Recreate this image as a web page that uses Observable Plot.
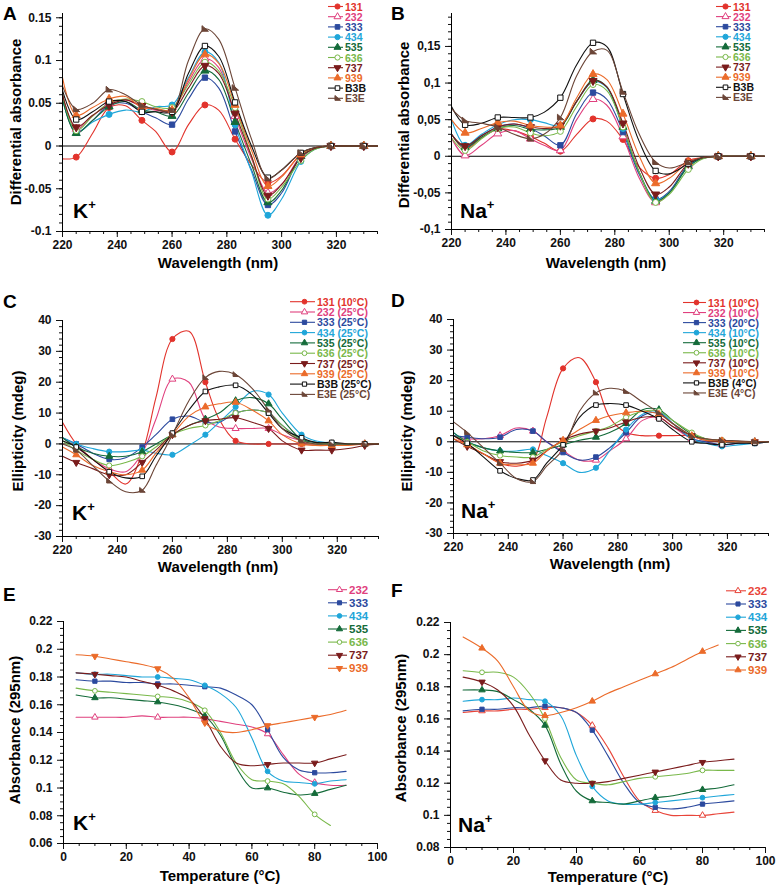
<!DOCTYPE html>
<html><head><meta charset="utf-8">
<script src="https://cdn.jsdelivr.net/npm/d3@7"></script>
<script src="https://cdn.jsdelivr.net/npm/@observablehq/plot@0.6"></script>
<style>
body{margin:0;background:#fff;}
#fig{position:relative;width:777px;height:888px;overflow:hidden;background:#fff;}
#fig svg{position:absolute;left:0;top:0;}
</style></head><body><div id="fig"></div>
<script>
// ---------- DATA ----------
const wavelength = [220, 225, 231, 237, 243, 249, 254, 260, 266, 272, 277, 283, 289, 295, 300, 307, 312, 318, 324, 330, 335];
const markerWavelengths = [225, 237, 249, 260, 272, 283, 295, 307, 318, 330];
const oligos = ["131", "232", "333", "434", "535", "636", "737", "939", "B3B", "E3E"];
const cdTempsK = ["10°C", "25°C", "25°C", "25°C", "25°C", "25°C", "25°C", "25°C", "25°C", "25°C"];
const cdTempsNa = ["10°C", "10°C", "20°C", "10°C", "10°C", "10°C", "10°C", "10°C", "4°C", "4°C"];

// Panel A: differential absorbance, K+
const diffAbsK = [
  [-0.015, -0.013, 0.015, 0.045, 0.047, 0.030, 0.017, -0.007, 0.025, 0.048, 0.042, 0.008, -0.022, -0.043, -0.035, -0.010, -0.003, 0, 0, 0, 0],
  [0.060, 0.020, 0.035, 0.050, 0.054, 0.046, 0.042, 0.042, 0.075, 0.102, 0.092, 0.035, -0.015, -0.055, -0.045, -0.012, -0.003, 0, 0, 0, 0],
  [0.055, 0.016, 0.030, 0.048, 0.050, 0.040, 0.033, 0.025, 0.055, 0.080, 0.068, 0.017, -0.028, -0.069, -0.055, -0.012, -0.003, 0, 0, 0, 0],
  [0.055, 0.016, 0.028, 0.037, 0.042, 0.040, 0.046, 0.048, 0.080, 0.110, 0.098, 0.025, -0.030, -0.081, -0.062, -0.018, -0.004, 0, 0, 0, 0],
  [0.055, 0.015, 0.030, 0.046, 0.052, 0.042, 0.040, 0.035, 0.062, 0.088, 0.078, 0.028, -0.022, -0.066, -0.052, -0.012, -0.003, 0, 0, 0, 0],
  [0.060, 0.018, 0.035, 0.050, 0.055, 0.052, 0.046, 0.045, 0.072, 0.098, 0.088, 0.045, -0.012, -0.062, -0.048, -0.017, -0.004, 0, 0, 0, 0],
  [0.060, 0.022, 0.036, 0.048, 0.054, 0.047, 0.043, 0.040, 0.068, 0.094, 0.085, 0.038, -0.012, -0.058, -0.045, -0.014, -0.003, 0, 0, 0, 0],
  [0.080, 0.036, 0.045, 0.055, 0.058, 0.045, 0.044, 0.042, 0.078, 0.107, 0.097, 0.048, -0.005, -0.047, -0.036, -0.010, -0.002, 0, 0, 0, 0],
  [0.065, 0.031, 0.040, 0.052, 0.052, 0.040, 0.040, 0.040, 0.085, 0.117, 0.105, 0.051, 0.000, -0.037, -0.028, -0.008, -0.002, 0, 0, 0, 0],
  [0.070, 0.043, 0.050, 0.066, 0.060, 0.048, 0.043, 0.042, 0.100, 0.137, 0.125, 0.068, 0.008, -0.038, -0.028, -0.008, -0.002, 0, 0, 0, 0]
];
// Panel B: differential absorbance, Na+
const diffAbsNa = [
  [0.030, 0.010, 0.025, 0.037, 0.035, 0.027, 0.018, 0.007, 0.030, 0.051, 0.048, 0.023, -0.015, -0.030, -0.025, -0.006, -0.002, 0, 0, 0, 0],
  [0.025, 0.001, 0.015, 0.031, 0.035, 0.024, 0.015, 0.008, 0.050, 0.078, 0.070, 0.027, -0.030, -0.063, -0.050, -0.012, -0.003, 0, 0, 0, 0],
  [0.030, 0.012, 0.028, 0.040, 0.044, 0.038, 0.028, 0.015, 0.058, 0.087, 0.078, 0.033, -0.025, -0.059, -0.048, -0.012, -0.003, 0, 0, 0, 0],
  [0.050, 0.015, 0.030, 0.043, 0.050, 0.050, 0.046, 0.042, 0.075, 0.102, 0.094, 0.038, -0.022, -0.060, -0.050, -0.014, -0.003, 0, 0, 0, 0],
  [0.030, 0.012, 0.026, 0.038, 0.042, 0.037, 0.036, 0.040, 0.075, 0.104, 0.095, 0.040, -0.022, -0.061, -0.050, -0.014, -0.003, 0, 0, 0, 0],
  [0.025, 0.008, 0.024, 0.038, 0.040, 0.032, 0.028, 0.034, 0.068, 0.098, 0.090, 0.040, -0.022, -0.063, -0.052, -0.018, -0.004, 0, 0, 0, 0],
  [0.030, 0.014, 0.028, 0.040, 0.044, 0.040, 0.038, 0.042, 0.075, 0.103, 0.095, 0.045, -0.015, -0.052, -0.042, -0.010, -0.002, 0, 0, 0, 0],
  [0.050, 0.032, 0.038, 0.046, 0.048, 0.042, 0.040, 0.042, 0.080, 0.112, 0.105, 0.058, 0.000, -0.037, -0.030, -0.008, -0.002, 0, 0, 0, 0],
  [0.068, 0.043, 0.045, 0.053, 0.053, 0.053, 0.060, 0.080, 0.125, 0.155, 0.150, 0.085, 0.020, -0.020, -0.024, -0.010, -0.002, 0, 0, 0, 0],
  [0.065, 0.049, 0.045, 0.040, 0.030, 0.024, 0.030, 0.053, 0.110, 0.143, 0.145, 0.088, 0.030, -0.008, -0.016, -0.008, -0.002, 0, 0, 0, 0]
];
// Panel C: CD ellipticity (mdeg), K+
const cdK = [
  [7, 0, -5, -9, -13, -3, 15, 34, 36.5, 20, 8, 1, 0, 0, 0, 0, 0, 0, 0, 0, 0],
  [2, -1, -5, -8, -9, -3, 8, 21, 20, 8, 5.5, 5, 5, 5, 3, 1, 0, 0, 0, 0, 0],
  [2, 0, -3, -5, -4.5, -1, 3, 8, 9, 7, 7, 10, 11, 10, 6, 1.5, 0.5, 0, 0, 0, 0],
  [2, 0, -1.5, -2.5, -2.5, -2, -3, -3.5, -0.5, 3, 7, 12, 17, 16, 10, 3, 1, 0.3, 0, 0, 0],
  [2, -1, -3, -4, -4, -2.5, 0, 3, 6, 8, 10, 14, 15, 13, 8, 1.5, 0.5, 0, 0, 0, 0],
  [1, -2, -5, -7, -6, -4, -1, 3, 5, 6, 7.5, 10, 11, 10, 6, 1, 0, 0, 0, 0, 0],
  [-4, -6, -8, -10, -10, -6, -2, 3, 6, 7.5, 8, 8.5, 7, 5, 1, -2, -2, -2, -1.5, -0.5, 0],
  [-1, -3.5, -7, -9, -10, -8.5, -3, 3, 9, 12, 13, 13.5, 11, 7.5, 3, 0, -0.5, -0.5, -0.5, 0, 0],
  [1, -1, -5, -9, -11, -10.5, -4, 3.5, 11, 17, 18.5, 19, 16, 10, 5, 2, 0.5, 0.5, 0, 0, 0],
  [0, -2, -7, -12, -15.5, -15, -7, 3, 14, 21.5, 23.5, 22.5, 18, 11, 5, 1, 0, 0, 0, 0, 0]
];
// Panel D: CD ellipticity (mdeg), Na+
const cdNa = [
  [2, -1, -4, -7, -8, -6, 8, 24, 27.5, 19.5, 8, 3, 2, 2, 2, 2, 1, 0.5, 0, 0, 0],
  [2, 1, 1, 2, 4.5, 3.5, 0, -3, -6, -6, -3, 1, 7, 8, 5, 1, 0, -1, -0.5, 0, 0],
  [2, 1.5, 1, 1.5, 4, 3.5, 0, -3.5, -6, -5, -2, 3, 8.5, 9.5, 6, 1, 0, -1, -0.5, -0.5, 0],
  [3, 0, -2, -3, -3, -2.5, -4.5, -7, -10, -8.5, -3, 4, 9, 10, 6, 1, -0.5, -1.5, -1, -0.5, 0],
  [3, 0, -2, -3, -3.5, -3.5, -2.5, -1, 0.5, 1.5, 3, 6, 10.5, 10.5, 7, 2.5, 1, 0, 0, 0, 0],
  [2, 0, -3, -4.5, -5, -5, -2.5, 0, 2, 3.5, 5, 8, 10, 10, 7, 3, 1, 0.5, 0, 0, 0],
  [1, -1.5, -4, -6.5, -7, -6, -3, 0.5, 2.5, 3.5, 4.5, 6.5, 8, 8, 5, 2, 0.5, 0, 0, 0, 0],
  [1, -1, -4, -7, -7.5, -7, -3, 0.5, 4, 7, 8.5, 9.5, 10, 9, 6, 2, 0.5, 0.3, 0, 0, 0],
  [2, -0.5, -5, -9.5, -12, -12.5, -7, -1, 8, 12, 12.5, 12, 10, 7.5, 4, 0, -0.5, -1, -0.5, -0.5, 0],
  [6.5, 3, -2, -7, -12, -13, -8, -2.5, 10, 16, 17.5, 16.5, 13, 9.5, 6, 2, 1, 0.5, 0.3, 0, 0]
];

// Panels E/F: melting curves, absorbance at 295 nm
const temperature = [4, 10, 15, 20, 25, 30, 35, 40, 45, 50, 55, 60, 65, 70, 75, 80, 85, 90];
const markerTemps = [10, 30, 45, 65, 80];
const meltOligos = ["232", "333", "434", "535", "636", "737", "939"];
const meltK = [
  [0.151, 0.151, 0.151, 0.151, 0.152, 0.151, 0.151, 0.151, 0.150, 0.148, 0.146, 0.144, 0.139, 0.124, 0.110, 0.104, 0.102, 0.102],
  [0.178, 0.177, 0.177, 0.176, 0.176, 0.175, 0.175, 0.174, 0.173, 0.172, 0.167, 0.160, 0.142, 0.122, 0.113, 0.111, 0.111, 0.112],
  [0.183, 0.182, 0.182, 0.181, 0.180, 0.180, 0.179, 0.178, 0.174, 0.168, 0.158, 0.136, 0.112, 0.105, 0.104, 0.103, 0.105, 0.106],
  [0.167, 0.165, 0.165, 0.164, 0.163, 0.162, 0.160, 0.157, 0.152, 0.138, 0.115, 0.100, 0.100, 0.097, 0.095, 0.096, 0.099, 0.102],
  [0.172, 0.170, 0.169, 0.168, 0.167, 0.166, 0.165, 0.162, 0.156, 0.140, 0.118, 0.106, 0.105, 0.103, 0.094, 0.081, 0.073, null],
  [0.183, 0.182, 0.181, 0.180, 0.177, 0.174, 0.170, 0.164, 0.150, 0.130, 0.118, 0.116, 0.117, 0.118, 0.118, 0.118, 0.121, 0.124],
  [0.196, 0.195, 0.193, 0.191, 0.189, 0.186, 0.179, 0.165, 0.147, 0.141, 0.140, 0.142, 0.145, 0.147, 0.149, 0.151, 0.153, 0.156]
];
const meltNa = [
  [0.164, 0.165, 0.165, 0.166, 0.166, 0.167, 0.167, 0.164, 0.156, 0.142, 0.124, 0.109, 0.103, 0.100, 0.100, 0.100, 0.101, 0.102],
  [0.165, 0.166, 0.166, 0.167, 0.167, 0.168, 0.167, 0.164, 0.153, 0.137, 0.120, 0.108, 0.105, 0.104, 0.105, 0.107, 0.108, 0.109],
  [0.171, 0.172, 0.172, 0.173, 0.172, 0.171, 0.162, 0.137, 0.118, 0.109, 0.107, 0.107, 0.108, 0.109, 0.110, 0.111, 0.112, 0.113],
  [0.178, 0.178, 0.177, 0.172, 0.166, 0.156, 0.132, 0.115, 0.109, 0.108, 0.107, 0.109, 0.111, 0.112, 0.114, 0.116, 0.117, 0.119],
  [0.190, 0.189, 0.189, 0.186, 0.176, 0.160, 0.136, 0.122, 0.120, 0.119, 0.121, 0.123, 0.124, 0.125, 0.126, 0.128, 0.128, 0.128],
  [0.186, 0.183, 0.178, 0.168, 0.150, 0.134, 0.122, 0.120, 0.120, 0.121, 0.123, 0.125, 0.127, 0.129, 0.131, 0.133, 0.134, 0.135],
  [0.211, 0.204, 0.196, 0.180, 0.165, 0.162, 0.164, 0.167, 0.171, 0.176, 0.180, 0.184, 0.188, 0.192, 0.197, 0.202, 0.206, null]
];

// Tick values
const wlTicks = [220, 240, 260, 280, 300, 320];
const tempTicks = [0, 20, 40, 60, 80, 100];
const diffTicks = [-0.1, -0.05, 0, 0.05, 0.1, 0.15];
const cdTicks = [-30, -20, -10, 0, 10, 20, 30, 40];
const meltTicksK = [0.06, 0.08, 0.1, 0.12, 0.14, 0.16, 0.18, 0.2, 0.22];
const meltTicksNa = [0.08, 0.1, 0.12, 0.14, 0.16, 0.18, 0.2, 0.22];

// ---------- STYLE ----------
const FONT = '"Liberation Sans", Arial, Helvetica, sans-serif';
const triangleDown = {draw(ctx, size) {
  const y = Math.sqrt(size / (3 * Math.sqrt(3))), s3 = Math.sqrt(3);
  ctx.moveTo(0, 2 * y); ctx.lineTo(-s3 * y, -y); ctx.lineTo(s3 * y, -y); ctx.closePath();
}};
const wedge = {draw(ctx, size) {
  const s = Math.sqrt(size) * 0.55;
  ctx.moveTo(-s, -s * 1.1); ctx.lineTo(-s, s * 0.8); ctx.lineTo(s * 1.2, s * 0.8); ctx.closePath();
}};
const colorOf = {"131": "#e2332c", "232": "#e0407e", "333": "#2c4a9e", "434": "#1fa6d9", "535": "#146b3a",
  "636": "#79b84a", "737": "#7a1c1c", "939": "#eb6b2a", "B3B": "#111111", "E3E": "#6b4537"};
const symbolOf = {"131": d3.symbolCircle, "232": d3.symbolTriangle, "333": d3.symbolSquare, "434": d3.symbolCircle,
  "535": d3.symbolTriangle, "636": d3.symbolCircle, "737": triangleDown, "939": d3.symbolTriangle,
  "B3B": d3.symbolSquare, "E3E": wedge};
const filledOf = {"131": true, "232": false, "333": true, "434": true, "535": true, "636": false,
  "737": true, "939": true, "B3B": false, "E3E": true};

const fig = document.getElementById("fig");

function rowsOf(xs, vals) { return xs.map((x, i) => ({x, y: vals[i]})).filter(d => d.y != null); }

function panel(cfg) {
  const marks = [];
  if (cfg.zero) marks.push(Plot.ruleY([0], {stroke: "#000", strokeWidth: 1}));
  cfg.values.forEach((vals, i) => {
    const name = cfg.names[i];
    marks.push(Plot.line(rowsOf(cfg.xs, vals), {x: "x", y: "y", stroke: cfg.colors[i] || colorOf[name],
      strokeWidth: 1.1, curve: "catmull-rom"}));
  });
  cfg.values.forEach((vals, i) => {
    const name = cfg.names[i];
    const c = cfg.colors[i] || colorOf[name];
    const sym = (cfg.symbols && cfg.symbols[i]) || symbolOf[name];
    marks.push(Plot.dot(rowsOf(cfg.xs, vals).filter(d => cfg.markXs.includes(d.x)),
      {x: "x", y: "y", symbol: sym, r: cfg.r, fill: filledOf[name] ? c : "white", stroke: c, strokeWidth: 1}));
  });
  marks.push(
    Plot.axisX({ticks: cfg.xMinor, tickSize: 3, tickFormat: () => "", label: null}),
    Plot.axisY({ticks: cfg.yMinor, tickSize: 3, tickFormat: () => "", label: null}),
    Plot.axisX({ticks: cfg.xTicks, tickSize: 6, tickPadding: 3, tickFormat: d => String(d), label: null,
      fontSize: 12, fontWeight: "bold"}),
    Plot.axisY({ticks: cfg.yTicks, tickSize: 6, tickPadding: 5, tickFormat: cfg.yFormat, label: null,
      fontSize: 12, fontWeight: "bold"}),
    Plot.ruleX([cfg.xDomain[0]], {stroke: "#000"}),
    Plot.ruleY([cfg.yDomain[0]], {stroke: "#000"})
  );
  const svg = Plot.plot({
    width: 777, height: 888,
    marginLeft: cfg.frame[0], marginRight: 777 - cfg.frame[1],
    marginTop: cfg.frame[2], marginBottom: 888 - cfg.frame[3],
    x: {domain: cfg.xDomain}, y: {domain: cfg.yDomain},
    style: {background: "transparent", fontFamily: FONT, fontSize: "12px", fontWeight: "bold", color: "#111", overflow: "visible"},
    marks
  });
  fig.appendChild(svg);
}

const fmtDot = d => String(+d.toFixed(3));
const fmtComma = d => String(+d.toFixed(3)).replace(".", ",");
const spectraColors = oligos.map(o => colorOf[o]);

panel({frame: [62, 377, 13, 231], xDomain: [220, 335], yDomain: [-0.1, 0.155], xs: wavelength, markXs: markerWavelengths,
  values: diffAbsK, names: oligos, colors: spectraColors, r: 3, zero: true,
  xTicks: wlTicks, xMinor: d3.range(220, 336, 5), yTicks: diffTicks, yMinor: d3.range(-10, 16, 1).map(v => v / 100), yFormat: fmtDot});
panel({frame: [451, 764, 13, 229], xDomain: [220, 335], yDomain: [-0.1, 0.195], xs: wavelength, markXs: markerWavelengths,
  values: diffAbsNa, names: oligos, colors: spectraColors, r: 3, zero: true,
  xTicks: wlTicks, xMinor: d3.range(220, 336, 5), yTicks: diffTicks, yMinor: d3.range(-10, 20, 1).map(v => v / 100), yFormat: fmtComma});
panel({frame: [62, 378, 320, 536], xDomain: [220, 335], yDomain: [-30, 40], xs: wavelength, markXs: markerWavelengths,
  values: cdK, names: oligos, colors: spectraColors, r: 2.6, zero: true,
  xTicks: wlTicks, xMinor: d3.range(220, 336, 5), yTicks: cdTicks, yMinor: d3.range(-30, 41, 2), yFormat: d => String(d)});
panel({frame: [453, 768, 319, 533], xDomain: [220, 335], yDomain: [-30, 40], xs: wavelength, markXs: markerWavelengths,
  values: cdNa, names: oligos, colors: spectraColors, r: 2.6, zero: true,
  xTicks: wlTicks, xMinor: d3.range(220, 336, 5), yTicks: cdTicks, yMinor: d3.range(-30, 41, 2), yFormat: d => String(d)});
const meltColorsK = meltOligos.map(o => colorOf[o]);
const meltColorsNa = meltOligos.map(o => o === "232" ? "#e8453a" : colorOf[o]);
const meltSymK = meltOligos.map(o => o === "939" ? triangleDown : symbolOf[o]);
const meltSymNa = meltOligos.map(o => symbolOf[o]);
panel({frame: [63, 377, 621, 843], xDomain: [0, 100], yDomain: [0.06, 0.22], xs: temperature, markXs: markerTemps,
  values: meltK, names: meltOligos, colors: meltColorsK, symbols: meltSymK, r: 2.4, zero: false,
  xTicks: tempTicks, xMinor: d3.range(0, 101, 5), yTicks: meltTicksK, yMinor: d3.range(60, 221, 5).map(v => v / 1000), yFormat: fmtDot});
panel({frame: [450, 765, 622, 847], xDomain: [0, 100], yDomain: [0.08, 0.22], xs: temperature, markXs: markerTemps,
  values: meltNa, names: meltOligos, colors: meltColorsNa, symbols: meltSymNa, r: 2.4, zero: false,
  xTicks: tempTicks, xMinor: d3.range(0, 101, 5), yTicks: meltTicksNa, yMinor: d3.range(80, 221, 5).map(v => v / 1000), yFormat: fmtDot});

// ---------- TEXT OVERLAY (titles, panel letters, legends) ----------
const ov = d3.select(fig).append("svg").attr("width", 777).attr("height", 888)
  .style("font-family", FONT).style("font-weight", "bold");

[["A", 3, 20], ["B", 391, 20], ["C", 3, 308], ["D", 391, 307], ["E", 3, 601], ["F", 391, 597]].forEach(([t, x, y]) =>
  ov.append("text").attr("x", x).attr("y", y).attr("font-size", 19).attr("fill", "#000").text(t));

function ion(label, x, y) {
  const t = ov.append("text").attr("x", x).attr("y", y).attr("font-size", 21).attr("fill", "#000");
  t.append("tspan").text(label);
  t.append("tspan").attr("dy", -9).attr("font-size", 13).text("+");
}
ion("K", 73, 218); ion("Na", 460, 218); ion("K", 72, 520); ion("Na", 461, 518); ion("K", 73, 830); ion("Na", 458, 832);

function xTitle(t, x, y) {
  ov.append("text").attr("x", x).attr("y", y).attr("text-anchor", "middle").attr("font-size", 15).attr("fill", "#000").text(t);
}
function yTitle(t, x, y) {
  ov.append("text").attr("transform", `translate(${x},${y}) rotate(-90)`).attr("text-anchor", "middle")
    .attr("dominant-baseline", "central").attr("font-size", 15).attr("fill", "#000").text(t);
}
xTitle("Wavelength (nm)", 218, 268); xTitle("Wavelength (nm)", 606, 268);
xTitle("Wavelength (nm)", 218, 572); xTitle("Wavelength (nm)", 610, 569);
xTitle("Temperature (°C)", 220, 881); xTitle("Temperature (°C)", 608, 882);
yTitle("Differential absorbance", 15, 122); yTitle("Differential absorbance", 403, 125);
yTitle("Ellipticity (mdeg)", 17, 431); yTitle("Ellipticity (mdeg)", 406, 431);
yTitle("Absorbance (295nm)", 14, 730); yTitle("Absorbance (295nm)", 400, 728);

function legend({x0, x1, y0, dy, fontSize, r, items}) {
  items.forEach((it, i) => {
    const y = y0 + i * dy;
    ov.append("line").attr("x1", x0).attr("x2", x1).attr("y1", y).attr("y2", y).attr("stroke", it.color).attr("stroke-width", 1.1);
    ov.append("path").attr("transform", `translate(${(x0 + x1) / 2 + 2},${y})`)
      .attr("d", d3.symbol().type(it.symbol).size(Math.PI * r * r)())
      .attr("fill", it.filled ? it.color : "white").attr("stroke", it.color).attr("stroke-width", 1);
    ov.append("text").attr("x", x1 + 2).attr("y", y).attr("dominant-baseline", "central")
      .attr("font-size", fontSize).attr("fill", it.color).text(it.label);
  });
}
const specItems = (labels) => oligos.map((o, i) => ({label: labels[i], color: colorOf[o], symbol: symbolOf[o], filled: filledOf[o]}));
legend({x0: 328, x1: 343, y0: 6.5, dy: 10.2, fontSize: 10.5, r: 2.6, items: specItems(oligos)});
legend({x0: 716, x1: 731, y0: 6.5, dy: 10.1, fontSize: 10.5, r: 2.6, items: specItems(oligos)});
legend({x0: 290, x1: 315, y0: 301.7, dy: 10.3, fontSize: 10.5, r: 2.4, items: specItems(oligos.map((o, i) => `${o} (${cdTempsK[i]})`))});
legend({x0: 683, x1: 706, y0: 302.5, dy: 10.05, fontSize: 10.5, r: 2.4, items: specItems(oligos.map((o, i) => `${o} (${cdTempsNa[i]})`))});
legend({x0: 328, x1: 347, y0: 589.7, dy: 13.1, fontSize: 11.5, r: 2.3,
  items: meltOligos.map((o, i) => ({label: o, color: meltColorsK[i], symbol: meltSymK[i], filled: filledOf[o]}))});
legend({x0: 726, x1: 746, y0: 590.8, dy: 13.2, fontSize: 11.5, r: 2.3,
  items: meltOligos.map((o, i) => ({label: o, color: meltColorsNa[i], symbol: meltSymNa[i], filled: filledOf[o]}))});
</script></body></html>
